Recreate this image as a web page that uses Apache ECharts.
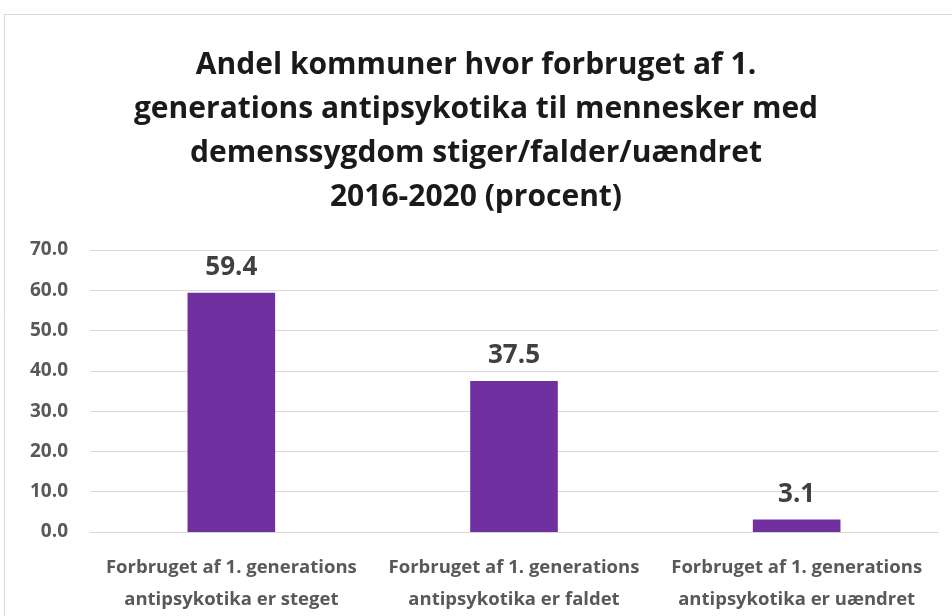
<!DOCTYPE html>
<html>
<head>
<meta charset="utf-8">
<script src="https://cdn.jsdelivr.net/npm/echarts@6/dist/echarts.min.js"></script>
<style>
  html, body { margin: 0; padding: 0; background: #fff; }
  #chart { width: 952px; height: 616px; }
</style>
</head>
<body>
<div id="chart"></div>
<script>
const categories = [
  'Forbruget af 1. generations\nantipsykotika er steget',
  'Forbruget af 1. generations\nantipsykotika er faldet',
  'Forbruget af 1. generations\nantipsykotika er uændret'
];
const values = [59.4, 37.5, 3.1];
const titleText = 'Andel kommuner hvor forbruget af 1.\ngenerations antipsykotika til mennesker med\ndemenssygdom stiger/falder/uændret\n2016-2020 (procent)';

const chart = echarts.init(document.getElementById('chart'));

chart.setOption({
  animation: false,
  title: {
    text: titleText,
    left: 'center',
    top: 38,
    textStyle: {
      fontFamily: 'Open Sans',
      fontWeight: 'bold',
      fontSize: 30,
      lineHeight: 44,
      color: '#1a1a1a'
    }
  },
  graphic: [{
    type: 'rect',
    shape: { x: 4.5, y: 14.5, width: 960, height: 620 },
    style: { fill: 'none', stroke: '#d9d9d9', lineWidth: 1 },
    silent: true
  }],
  grid: { left: 90, right: 14, top: 250, bottom: 83 },
  xAxis: {
    type: 'category',
    data: categories,
    axisLine: { show: true, lineStyle: { color: '#d9d9d9', width: 1 } },
    axisTick: { show: false },
    axisLabel: {
      fontFamily: 'Open Sans',
      fontWeight: 'bold',
      fontSize: 18.5,
      lineHeight: 32,
      color: '#595959',
      margin: 20,
      interval: 0
    }
  },
  yAxis: {
    type: 'value',
    min: 0,
    max: 70,
    interval: 10,
    axisLine: { show: false },
    axisTick: { show: false },
    splitLine: { lineStyle: { color: '#d9d9d9', width: 1 } },
    axisLabel: {
      fontFamily: 'Open Sans',
      fontWeight: 'bold',
      fontSize: 19,
      color: '#595959',
      margin: 22,
      formatter: v => v.toFixed(1)
    }
  },
  series: [{
    type: 'bar',
    data: values,
    barWidth: '31%',
    itemStyle: { color: '#7030a0' },
    label: {
      show: true,
      position: 'top',
      distance: 12,
      fontFamily: 'Open Sans',
      fontWeight: 'bold',
      fontSize: 26,
      color: '#404040',
      formatter: p => p.value.toFixed(1)
    }
  }]
});
</script>
</body>
</html>
